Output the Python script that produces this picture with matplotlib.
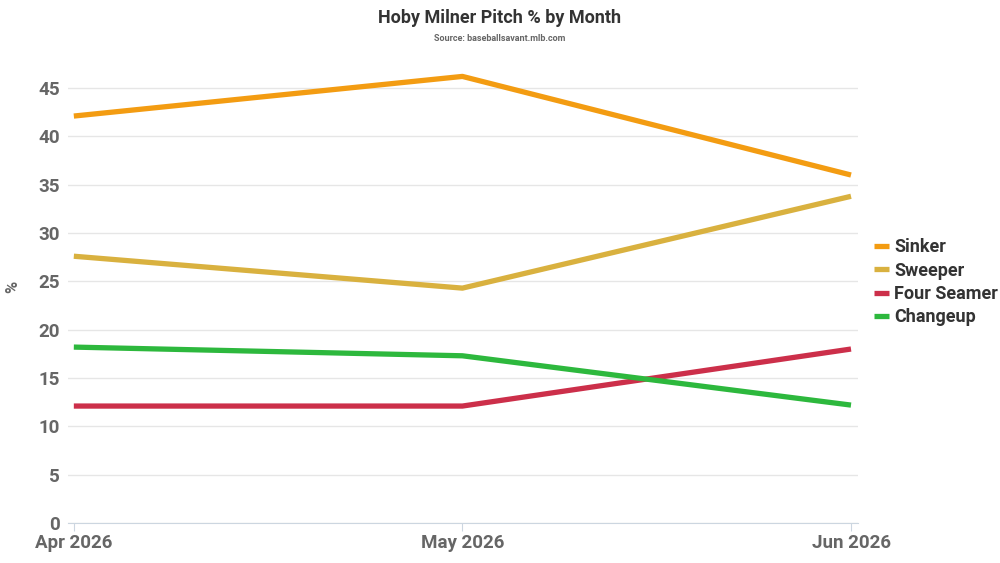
import matplotlib
matplotlib.use("Agg")
import matplotlib.pyplot as plt

# data
months = ["Apr 2026", "May 2026", "Jun 2026"]
sinker = [42.1, 46.2, 36.0]
sweeper = [27.6, 24.3, 33.8]
four_seamer = [12.1, 12.1, 18.0]
changeup = [18.2, 17.3, 12.2]

series = {
    "Sinker": (sinker, "#F39C12"),
    "Sweeper": (sweeper, "#D9B13F"),
    "Four Seamer": (four_seamer, "#CC2F4A"),
    "Changeup": (changeup, "#2DB83D"),
}

plt.rcParams["font.family"] = ["Roboto", "DejaVu Sans"]

fig = plt.figure(figsize=(10, 5.63), dpi=100)
ax = fig.add_axes([0.068, 0.071, 0.79, 0.807])

x = list(range(len(months)))
for label, (vals, col) in series.items():
    ax.plot(x, vals, color=col, lw=3.8, label=label, solid_capstyle="butt")

ax.set_xlim(-0.015, 2.018)
ax.set_ylim(0, 47)
ax.set_yticks(range(0, 50, 5))
ax.set_xticks(x)
ax.set_xticklabels(months)
ax.grid(axis="y", color="#e6e6e6", lw=1)
ax.set_axisbelow(True)
for s in ["top", "right", "left"]:
    ax.spines[s].set_visible(False)
ax.spines["bottom"].set_color("#ccd6e0")
ax.tick_params(axis="y", length=0, pad=6, labelsize=13.5, labelcolor="#666666")
ax.tick_params(axis="x", length=6, color="#ccd6e0", pad=2, labelsize=13.5, labelcolor="#666666")
for t in ax.get_xticklabels() + ax.get_yticklabels():
    t.set_fontweight("bold")

ax.set_ylabel("%", color="#666666", fontsize=12, fontweight="bold")
ax.yaxis.set_label_coords(-0.061, 0.52)

fig.text(0.5, 0.968, "Hoby Milner Pitch % by Month", ha="center", va="center",
         fontsize=13, fontweight="bold", color="#333333")
fig.text(0.5, 0.932, "Source: baseballsavant.mlb.com", ha="center", va="center",
         fontsize=6.5, fontweight="bold", color="#666666")

leg = ax.legend(loc="center left", bbox_to_anchor=(1.0, 0.53), frameon=False,
                handlelength=0.8, handletextpad=0.3, labelspacing=0.3,
                prop={"size": 13, "weight": "bold"})
for t in leg.get_texts():
    t.set_color("#333333")

fig.savefig("out.png", dpi=100)
